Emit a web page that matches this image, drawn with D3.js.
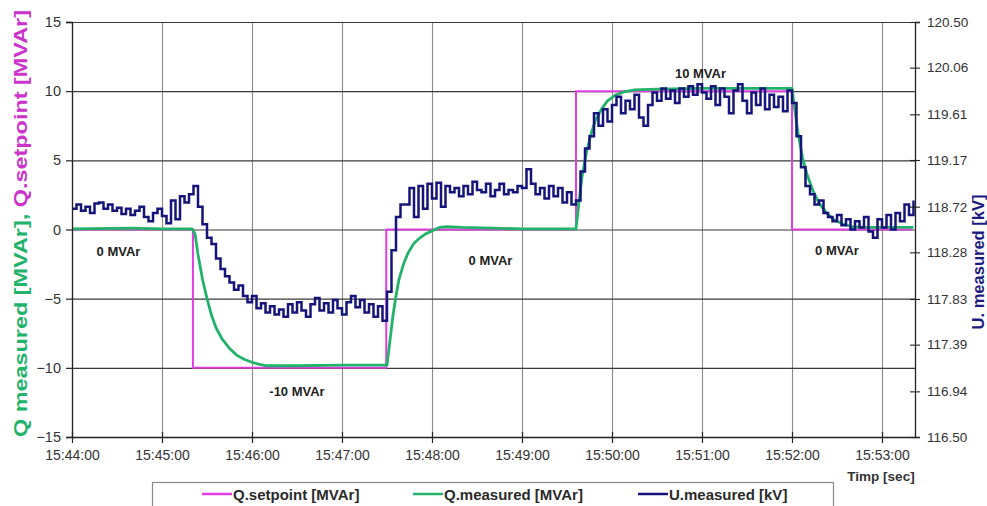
<!DOCTYPE html>
<html>
<head>
<meta charset="utf-8">
<script src="https://cdn.jsdelivr.net/npm/d3@7"></script>
<style>
  html, body { margin: 0; padding: 0; background: #fff; }
  svg { display: block; font-family: "Liberation Sans", Arial, sans-serif; }
</style>
</head>
<body>
<svg id="chart" width="987" height="506"></svg>
<script>
// ---- data ----
const timeStart = "15:44:00";
const timeEnd = "15:53:22";
const timeTicks = ["15:44:00", "15:45:00", "15:46:00", "15:47:00", "15:48:00",
                   "15:49:00", "15:50:00", "15:51:00", "15:52:00", "15:53:00"];
const qTicks = [-15, -10, -5, 0, 5, 10, 15];
const uTicks = [116.50, 116.94, 117.39, 117.83, 118.28, 118.72, 119.17, 119.61, 120.06, 120.50];

// Q.setpoint [MVAr]: seconds after 15:44:00, value
const setpointSec = [0, 80.6, 80.6, 209.5, 209.5, 336, 336, 480, 480, 560];
const setpointVal = [0, 0, -10, -10, 0, 0, 10, 10, 0, 0];

// Q.measured [MVAr]
const qMeasSec = [0, 40, 60, 80, 82, 84, 87, 90, 93, 96, 100, 105, 110, 115, 120, 125, 130, 150, 180, 209,
                  210, 212, 214, 216, 218, 221, 224, 228, 232, 236, 240, 245, 250, 260, 280, 300, 336,
                  338, 340, 343, 346, 349, 353, 357, 362, 368, 375, 390, 420, 450, 480,
                  482, 484, 487, 490, 494, 498, 503, 508, 514, 520, 530, 561];
const qMeasVal = [0.05, 0.1, 0.05, 0.05, -0.3, -1.8, -3.6, -5.0, -6.2, -7.1, -7.9, -8.6, -9.1, -9.4, -9.6, -9.75, -9.85, -9.85, -9.8, -9.8,
                  -9.8, -8.0, -6.2, -4.8, -3.6, -2.5, -1.7, -1.0, -0.6, -0.3, -0.1, 0.15, 0.2, 0.15, 0.1, 0.05, 0.05,
                  2.0, 3.8, 5.6, 6.9, 7.9, 8.7, 9.3, 9.7, 9.95, 10.1, 10.15, 10.2, 10.2, 10.2,
                  8.5, 7.0, 5.2, 4.0, 2.8, 1.9, 1.2, 0.7, 0.4, 0.2, 0.15, 0.15];

// U.measured [kV], one reading every 3 s from 15:44:00
const uStepSec = 3;
const uMeasVal = [
  118.70, 118.74, 118.68, 118.72, 118.66, 118.75, 118.76, 118.70, 118.74, 118.68,
  118.71, 118.65, 118.70, 118.64, 118.68, 118.72, 118.62, 118.58, 118.66, 118.70,
  118.63, 118.56, 118.78, 118.60, 118.82, 118.76, 118.84, 118.92, 118.72, 118.55,
  118.42, 118.36, 118.22, 118.12, 118.05, 117.99, 117.92, 117.96, 117.86, 117.80,
  117.86, 117.74, 117.79, 117.70, 117.76, 117.68, 117.73, 117.66, 117.78, 117.70,
  117.80, 117.72, 117.66, 117.78, 117.84, 117.72, 117.79, 117.70, 117.82, 117.74,
  117.68, 117.80, 117.86, 117.75, 117.82, 117.70, 117.78, 117.66, 117.76, 117.62,
  117.90, 118.30, 118.62, 118.74, 118.74, 118.90, 118.62, 118.92, 118.70, 118.94,
  118.80, 118.95, 118.72, 118.92, 118.86, 118.90, 118.82, 118.92, 118.84, 118.96,
  118.88, 118.86, 118.94, 118.82, 118.88, 118.94, 118.84, 118.88, 118.86, 118.92,
  118.90, 119.08, 118.94, 118.84, 118.90, 118.80, 118.92, 118.82, 118.90, 118.76,
  118.86, 118.74, 118.78, 119.06, 119.28, 119.40, 119.62, 119.50, 119.66, 119.54,
  119.70, 119.78, 119.62, 119.74, 119.66, 119.80, 119.58, 119.50, 119.70, 119.82,
  119.74, 119.86, 119.76, 119.84, 119.72, 119.86, 119.78, 119.88, 119.80, 119.90,
  119.82, 119.76, 119.88, 119.70, 119.86, 119.78, 119.62, 119.84, 119.90, 119.74,
  119.62, 119.82, 119.70, 119.86, 119.66, 119.80, 119.68, 119.78, 119.64, 119.84,
  119.72, 119.40, 119.10, 118.92, 118.84, 118.74, 118.78, 118.66, 118.62, 118.58,
  118.64, 118.54, 118.60, 118.50, 118.58, 118.52, 118.62, 118.48, 118.42, 118.60,
  118.52, 118.64, 118.50, 118.66, 118.58, 118.74, 118.64, 118.78
];

// Step annotations: text, seconds after start, Q level
const noteText = ["0 MVAr", "-10 MVAr", "0 MVAr", "10 MVAr", "0 MVAr"];
const noteSec = [31, 150, 279, 419, 510];
const noteQ = [-1.65, -11.8, -2.3, 11.2, -1.6];

const legendNames = ["Q.setpoint [MVAr]", "Q.measured [MVAr]", "U.measured [kV]"];

// ---- styling ----
const C_SET = "#e03ee0";
const C_QM = "#22b36a";
const C_U = "#14147a";
const TXT = "#333";

const svg = d3.select("#chart");
const m = { left: 72, right: 915, top: 22, bottom: 437 };

const parse = d3.timeParse("%H:%M:%S");
const t0 = parse(timeStart);
const atSec = s => new Date(t0.getTime() + s * 1000);

const x = d3.scaleTime().domain([t0, parse(timeEnd)]).range([m.left, m.right]);
const yQ = d3.scaleLinear().domain([-15, 15]).range([m.bottom, m.top]);
const yU = d3.scaleLinear().domain([116.5, 120.5]).range([m.bottom, m.top]);
const tickDates = timeTicks.map(parse);

// vertical grid (minutes)
svg.append("g").attr("class", "vgrid")
  .call(d3.axisBottom(x).tickValues(tickDates).tickSize(-(m.bottom - m.top)).tickFormat(""))
  .attr("transform", `translate(0,${m.bottom})`)
  .call(g => g.select(".domain").remove())
  .call(g => g.selectAll("line").attr("stroke", "#8a8a8a").attr("stroke-width", 1.1));

// horizontal grid
svg.append("g").attr("class", "hgrid")
  .attr("transform", `translate(${m.left},0)`)
  .call(d3.axisLeft(yQ).tickValues(qTicks).tickSize(-(m.right - m.left)).tickFormat(""))
  .call(g => g.select(".domain").remove())
  .call(g => g.selectAll("line").attr("stroke", "#3a3a3a").attr("stroke-width", 1.2));

// series
const lineOf = (yScale, curve) => d3.line().curve(curve || d3.curveLinear)
  .x(d => x(d[0])).y(d => yScale(d[1]));

const setData = setpointSec.map((s, i) => [atSec(s), setpointVal[i]]);
const qmData = qMeasSec.map((s, i) => [atSec(s), qMeasVal[i]]);
const uData = uMeasVal.map((v, i) => [atSec(i * uStepSec), v]);

svg.append("path").datum(setData).attr("d", lineOf(yQ))
  .attr("fill", "none").attr("stroke", C_SET).attr("stroke-width", 2);
svg.append("path").datum(qmData).attr("d", lineOf(yQ))
  .attr("fill", "none").attr("stroke", C_QM).attr("stroke-width", 2.8).attr("stroke-linejoin", "round");
// the voltage recorder holds each reading until the next one
svg.append("path").datum(uData).attr("d", lineOf(yU, d3.curveStepAfter))
  .attr("fill", "none").attr("stroke", C_U).attr("stroke-width", 2.5).attr("stroke-linejoin", "miter");

// left axis
svg.append("g")
  .attr("transform", `translate(${m.left},0)`)
  .call(d3.axisLeft(yQ).tickValues(qTicks).tickSize(6).tickPadding(5).tickFormat(d3.format("d")))
  .call(g => g.select(".domain").attr("stroke", "#222").attr("stroke-width", 1.3))
  .call(g => g.selectAll("line").attr("stroke", "#222").attr("stroke-width", 1.2))
  .call(g => g.selectAll("text").attr("fill", TXT).style("font-size", "14.5px")
    .style("font-family", "Liberation Sans, Arial, sans-serif"));

// bottom axis
svg.append("g")
  .attr("transform", `translate(0,${m.bottom})`)
  .call(d3.axisBottom(x).tickValues(tickDates).tickSizeInner(6).tickSizeOuter(0).tickPadding(7)
    .tickFormat(d3.timeFormat("%H:%M:%S")))
  .call(g => g.select(".domain").attr("stroke", "#222").attr("stroke-width", 1.3))
  .call(g => g.selectAll("line").attr("stroke", "#222").attr("stroke-width", 1.2).attr("y1", -5))
  .call(g => g.selectAll("text").attr("fill", TXT).style("font-size", "14px")
    .style("font-family", "Liberation Sans, Arial, sans-serif"));

// right axis
svg.append("g")
  .attr("transform", `translate(${m.right},0)`)
  .call(d3.axisRight(yU).tickValues(uTicks).tickSize(5).tickPadding(7).tickFormat(d3.format(".2f")))
  .call(g => g.select(".domain").attr("stroke", "#222").attr("stroke-width", 1.3))
  .call(g => g.selectAll("line").attr("stroke", "#222").attr("stroke-width", 1.1).attr("x1", -5))
  .call(g => g.selectAll("text").attr("fill", TXT).style("font-size", "13.5px")
    .style("font-family", "Liberation Sans, Arial, sans-serif"));

// step annotations
svg.append("g").selectAll("text").data(noteText).join("text")
  .attr("x", (d, i) => x(atSec(noteSec[i])))
  .attr("y", (d, i) => yQ(noteQ[i]))
  .attr("text-anchor", "middle").attr("dominant-baseline", "middle")
  .attr("font-weight", "bold").attr("font-size", 13).attr("fill", "#222")
  .text(d => d);

// axis titles
const leftTitle = svg.append("text")
  .attr("transform", `translate(27,${(m.top + m.bottom) / 2 - 6}) rotate(-90)`)
  .attr("text-anchor", "middle").attr("font-weight", "bold").attr("font-size", 18)
  .attr("textLength", 427).attr("lengthAdjust", "spacingAndGlyphs");
leftTitle.append("tspan").attr("fill", C_QM).text("Q measured [MVAr], ");
leftTitle.append("tspan").attr("fill", "#cc33cc").text("Q.setpoint [MVAr]");

svg.append("text")
  .attr("transform", `translate(984,262) rotate(-90)`)
  .attr("text-anchor", "middle").attr("font-weight", "bold").attr("font-size", 16.5)
  .attr("fill", "#1a1a80").text("U. measured [kV]");

svg.append("text").attr("x", 881).attr("y", 481)
  .attr("text-anchor", "middle").attr("font-weight", "bold").attr("font-size", 13.5)
  .attr("fill", TXT).text("Timp [sec]");

// legend
const legend = svg.append("g");
legend.append("rect").attr("x", 152.5).attr("y", 482.5).attr("width", 681).attr("height", 40)
  .attr("fill", "#fff").attr("stroke", "#8a8a8a").attr("stroke-width", 1.2);
const legColors = [C_SET, C_QM, C_U];
const legX = [202, 413, 638];
legend.selectAll("line").data(legendNames).join("line")
  .attr("x1", (d, i) => legX[i]).attr("x2", (d, i) => legX[i] + 30)
  .attr("y1", 494).attr("y2", 494)
  .attr("stroke", (d, i) => legColors[i]).attr("stroke-width", 2.5);
legend.selectAll("text").data(legendNames).join("text")
  .attr("x", (d, i) => legX[i] + 31).attr("y", 499.5)
  .attr("font-size", 15).attr("font-weight", "bold").attr("fill", "#2a2a2a")
  .text(d => d);
</script>
</body>
</html>
